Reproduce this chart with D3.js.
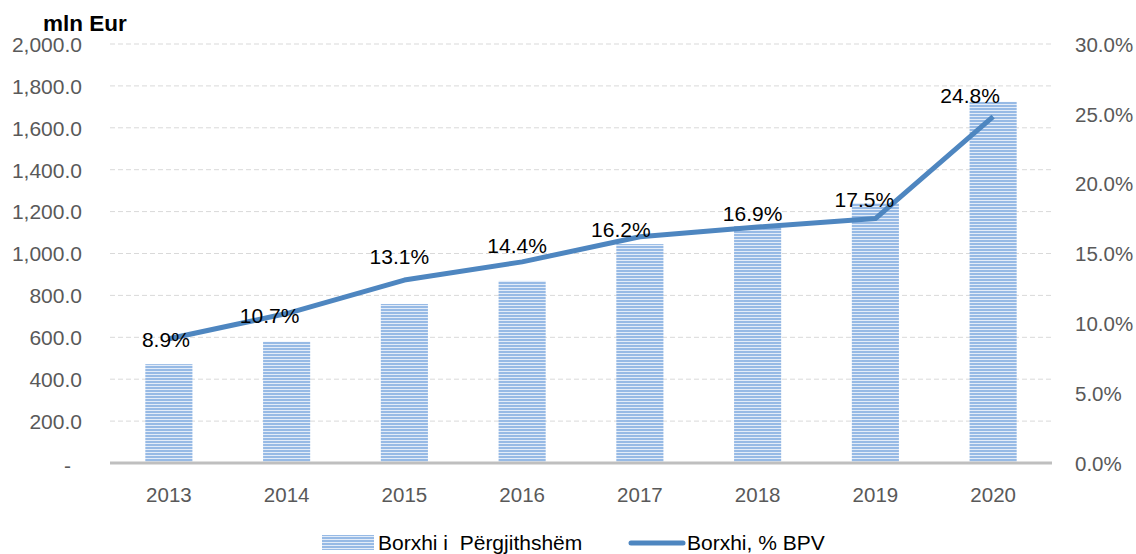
<!DOCTYPE html>
<html>
<head>
<meta charset="utf-8">
<script src="https://d3js.org/d3.v7.min.js"></script>
<style>
  body { margin: 0; background: #fff; }
  text { font-family: "Liberation Sans", Arial, sans-serif; }
</style>
</head>
<body>
<script>
  // data
  var years = ["2013", "2014", "2015", "2016", "2017", "2018", "2019", "2020"];
  var debt = [472, 579, 759, 869, 1045, 1131, 1241, 1724];          // mln Eur
  var debtPct = [8.9, 10.7, 13.1, 14.4, 16.2, 16.9, 17.5, 24.8];    // % BPV
  var leftTicks = [0, 200, 400, 600, 800, 1000, 1200, 1400, 1600, 1800, 2000];
  var rightTicks = [0, 5, 10, 15, 20, 25, 30];
  var seriesNames = ["Borxhi i  Përgjithshëm", "Borxhi, % BPV"];

  // hand placed label nudges (px), like in the original
  var labelNudge = [[-3, 8], [-17, 9], [-5, -16], [-5, -9], [-19, 0], [-5, -6], [-11, -12], [-23, -14]];

  var W = 1136, H = 554,
      plotL = 110, plotR = 1052, plotT = 44, plotB = 463;

  var svg = d3.select("body").append("svg")
      .attr("width", W)
      .attr("height", H);

  var defs = svg.append("defs");
  var pat = defs.append("pattern")
      .attr("id", "stripes")
      .attr("patternUnits", "userSpaceOnUse")
      .attr("width", 8).attr("height", 3);
  pat.append("rect").attr("width", 8).attr("height", 3).attr("fill", "#97bae5");
  pat.append("rect").attr("y", 2).attr("width", 8).attr("height", 1).attr("fill", "#e3ecf8");

  var x = d3.scaleBand()
      .domain(years)
      .range([plotL, plotR])
      .paddingInner(0.6)
      .paddingOuter(0.3);

  var yL = d3.scaleLinear().domain([0, 2000]).range([plotB, plotT]);
  var yR = d3.scaleLinear().domain([0, 30]).range([plotB, plotT]);

  // gridlines
  svg.append("g")
    .selectAll("line")
    .data(leftTicks.slice(1))
    .enter().append("line")
      .attr("x1", plotL).attr("x2", plotR)
      .attr("y1", function(d) { return yL(d); })
      .attr("y2", function(d) { return yL(d); })
      .attr("stroke", "#d9d9d9")
      .attr("stroke-width", 1)
      .attr("stroke-dasharray", "5,3");

  // left axis
  var fmt = d3.format(",.1f");
  var gl = svg.append("g")
      .attr("transform", "translate(" + 90 + ",0)")
      .call(d3.axisLeft(yL).tickValues(leftTicks).tickSize(0).tickPadding(8)
        .tickFormat(function(d) { return d === 0 ? "-" : fmt(d); }));
  gl.select(".domain").remove();
  gl.selectAll("text")
      .attr("fill", "#595959")
      .style("font-size", "21px")
      .attr("dy", "0.35em");
  gl.selectAll(".tick").filter(function(d) { return d === 0; })
    .select("text").attr("x", -19).attr("dy", "0.45em");

  // right axis
  var gr = svg.append("g")
      .attr("transform", "translate(" + 1067 + ",0)")
      .call(d3.axisRight(yR).tickValues(rightTicks).tickSize(0).tickPadding(8)
        .tickFormat(function(d) { return d.toFixed(1) + "%"; }));
  gr.select(".domain").remove();
  gr.selectAll("text")
      .attr("fill", "#595959")
      .style("font-size", "20.5px")
      .attr("dy", "0.35em");

  // bars
  svg.append("g")
    .selectAll("rect")
    .data(debt)
    .enter().append("rect")
      .attr("x", function(d, i) { return x(years[i]); })
      .attr("width", x.bandwidth())
      .attr("y", function(d) { return yL(d); })
      .attr("height", function(d) { return plotB - yL(d); })
      .attr("fill", "url(#stripes)");

  // baseline
  svg.append("line")
      .attr("x1", plotL).attr("x2", plotR)
      .attr("y1", plotB).attr("y2", plotB)
      .attr("stroke", "#bfbfbf")
      .attr("stroke-width", 3);

  // x axis labels
  var gx = svg.append("g")
      .attr("transform", "translate(0," + plotB + ")")
      .call(d3.axisBottom(x).tickSize(0).tickPadding(24));
  gx.select(".domain").remove();
  gx.selectAll("text")
      .attr("fill", "#595959")
      .style("font-size", "20.5px");

  // line
  var line = d3.line()
      .x(function(d, i) { return x(years[i]) + x.bandwidth() / 2; })
      .y(function(d) { return yR(d); });

  svg.append("path")
      .datum(debtPct)
      .attr("d", line)
      .attr("fill", "none")
      .attr("stroke", "#4e86c0")
      .attr("stroke-width", 5)
      .attr("stroke-linejoin", "round");

  // data labels
  svg.append("g")
    .selectAll("text")
    .data(debtPct)
    .enter().append("text")
      .attr("x", function(d, i) { return x(years[i]) + x.bandwidth() / 2 + labelNudge[i][0]; })
      .attr("y", function(d, i) { return yR(d) + labelNudge[i][1]; })
      .attr("text-anchor", "middle")
      .style("font-size", "21px")
      .attr("fill", "#000")
      .text(function(d) { return d.toFixed(1) + "%"; });

  // unit title
  svg.append("text")
      .attr("x", 43).attr("y", 31)
      .style("font-size", "22.5px")
      .style("font-weight", "bold")
      .text("mln Eur");

  // legend
  var lg = svg.append("g");
  lg.append("rect")
      .attr("x", 322).attr("y", 535)
      .attr("width", 52).attr("height", 15)
      .attr("fill", "url(#stripes)");
  lg.append("text")
      .attr("x", 378).attr("y", 543)
      .attr("dy", "0.35em")
      .style("font-size", "21px")
      .style("white-space", "pre")
      .text(seriesNames[0]);
  lg.append("line")
      .attr("x1", 631).attr("x2", 683)
      .attr("y1", 543).attr("y2", 543)
      .attr("stroke", "#4e86c0")
      .attr("stroke-width", 5)
      .attr("stroke-linecap", "round");
  lg.append("text")
      .attr("x", 687).attr("y", 543)
      .attr("dy", "0.35em")
      .style("font-size", "21px")
      .text(seriesNames[1]);
</script>
</body>
</html>
